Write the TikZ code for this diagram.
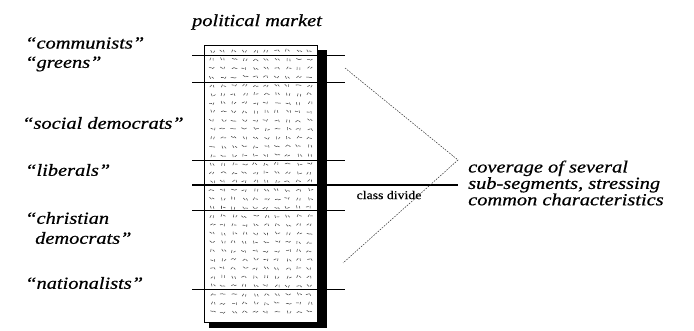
\documentclass[tikz,border=0pt]{standalone}
\usepackage{fontspec}
\setmainfont{Liberation Serif}
\newfontfamily\labfont[FakeStretch=1.2,FakeBold=0.6]{Liberation Serif}
\newfontfamily\smallfont[FakeStretch=1.15,FakeBold=0.4]{Liberation Serif}
\begin{document}
\begin{tikzpicture}[x=1pt,y=-1pt,
  lab/.style={anchor=west,inner sep=0pt,font=\labfont\itshape\fontsize{17}{15}\selectfont},
  divider/.style={line width=0.9pt,black},
  guide/.style={line width=0.5pt,black!80,dash pattern=on 1.6pt off 1.2pt},
  speck/.style={line width=0.55pt,black!70,line cap=round}]
\useasboundingbox (0,0) rectangle (694,331);

% segment box with drop shadow
\fill[black] (209,50) rectangle (327,328);
\node[draw=black,line width=1pt,fill=white,minimum width=113pt,minimum height=277pt,
      inner sep=0pt,anchor=north west] (market) at (204,45) {};

% stippled texture inside the box
\pgfmathsetseed{11}
\foreach \r in {0,...,30}{
  \foreach \c in {0,...,9}{
    \pgfmathsetmacro{\px}{210+\c*10.8+rnd*2}
    \pgfmathsetmacro{\py}{50+\r*8.7+rnd*1.5}
    \pgfmathsetmacro{\aa}{rnd*180}
    \pgfmathsetmacro{\ab}{rnd*180}
    \draw[speck] (\px,\py) ++(\aa:1.3) -- ++(\aa+180:2.6);
    \draw[speck] (\px+2.8,\py+0.3) ++(\ab:1.1) -- ++(\ab+180:2.2);
  }
}

% dividers between the segments
\foreach \n/\yy in {a/55,b/82,c/160,e/210,f/289}{
  \coordinate (l\n) at (192,\yy);
  \coordinate (r\n) at (345,\yy);
  \draw[divider] (l\n) -- (r\n);
}
\coordinate (ld) at (192,185);
\coordinate (rd) at (458,185);
\draw[line width=1.1pt] (ld) -- (rd);

% title and segment labels
\node[lab,anchor=center] (title) at (257,22) {political market};
\node[lab] (comm) at (25,43) {“communists”};
\node[lab] (green) at (25,64) {“greens”};
\node[lab] (socdem) at (22,123) {“social democrats”};
\node[lab] (lib) at (25,170) {“liberals”};
\node[lab] (chr) at (25,218) {“christian};
\node[lab] (chr2) at (35,238) {democrats”};
\node[lab] (nat) at (25,283) {“nationalists”};

\node[anchor=center,inner sep=0pt,font=\smallfont\fontsize{12}{14}\selectfont] (cd) at (389,195) {class divide};

% coverage bracket
\coordinate (ctop) at (345,68);
\coordinate (cmid) at (458,160);
\coordinate (cbot) at (343,263);
\draw[guide] (ctop) -- (cmid) -- (cbot);

\node[lab,align=left,anchor=west] (cover) at (468,183)
  {coverage of several\\sub-segments, stressing\\common characteristics};
\end{tikzpicture}
\end{document}
